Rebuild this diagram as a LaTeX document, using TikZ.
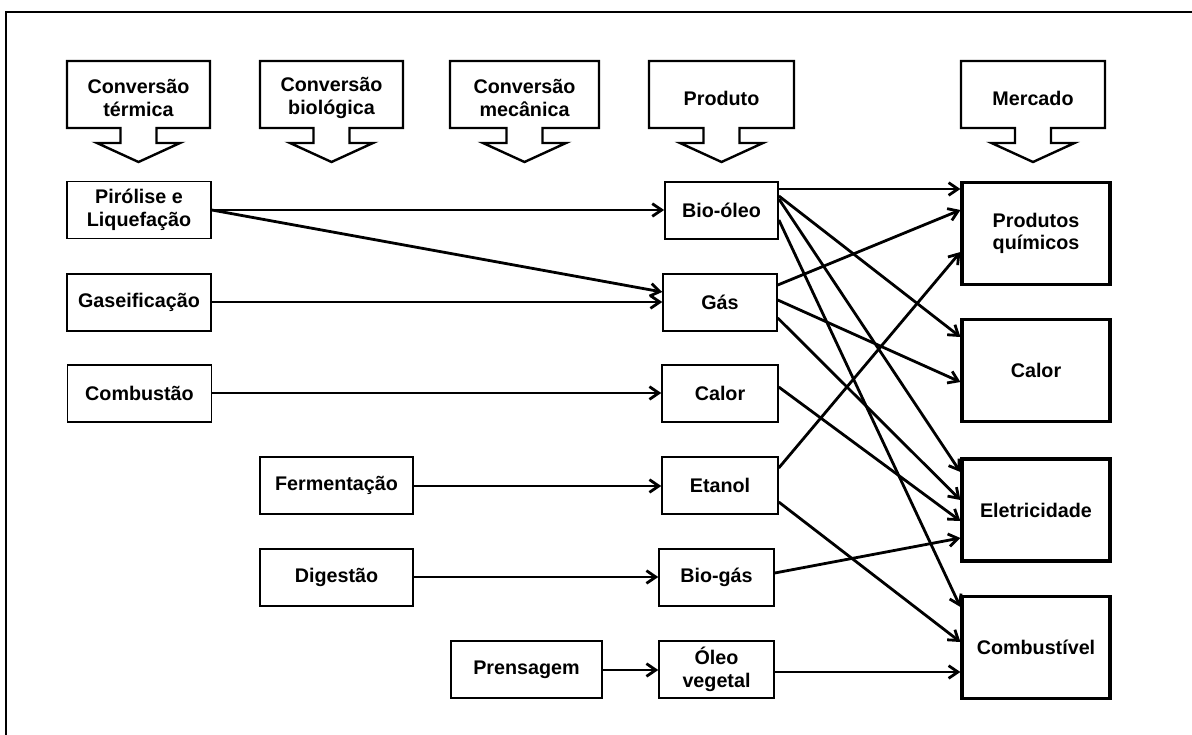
\documentclass[tikz,border=0pt]{standalone}
\usepackage{fontspec}
\setmainfont{Liberation Sans}
\usetikzlibrary{arrows.meta,calc}
\tikzset{
  px/.style={x=0.75pt,y=-0.75pt},
  txt/.style={font=\fontsize{14.8}{17}\selectfont\bfseries, align=center, inner sep=0pt},
  proc/.style={txt, draw, line width=1.1pt, minimum height=42.75pt},
  mkt/.style={txt, draw, line width=2.4pt, minimum width=111pt, minimum height=76.5pt},
  hdr/.style={txt},
  hdrline/.style={line width=1.8pt, line join=miter},
  conn/.style={line width=2.1pt, -{Straight Barb[length=7pt,width=9.5pt]}},
  frameline/.style={line width=1.6pt},
}
\newcommand\hdrshape[2]{%
  \draw[hdrline] ($(#1.center)+(-#2,-37)$) -- ($(#1.center)+(#2,-37)$)
    -- ($(#1.center)+(#2,30)$) -- ($(#1.center)+(18,30)$) -- ++(0,15) -- ++(23.5,0)
    -- ($(#1.center)+(0,64)$) -- ++(-41.5,-19) -- ++(23.5,0) -- ++(0,-15)
    -- ($(#1.center)+(-#2,30)$) -- cycle;}
\begin{document}
\begin{tikzpicture}[px]
\fill[white] (0,0) rectangle (1192,735);
\useasboundingbox (0,0) rectangle (1192,735);
\draw[frameline] (6,735) -- (6,12) -- (1192,12);

% headers
\node[hdr] (h1) at (138.5,98) {Conversão\\térmica};
\node[hdr] (h2) at (331.5,98) {Conversão\\biológica};
\node[hdr] (h3) at (524.5,98) {Conversão\\mecânica};
\node[hdr] (h4) at (721.5,98) {Produto};
\node[hdr] (h5) at (1033,98) {Mercado};
\hdrshape{h1}{71.5}
\hdrshape{h2}{71.5}
\hdrshape{h3}{74.5}
\hdrshape{h4}{72.5}
\hdrshape{h5}{72}

% processes
\node[proc, minimum width=108pt] (pir) at (139,210) {Pirólise e\\Liquefação};
\node[proc, minimum width=108pt] (gasf) at (139,302.5) {Gaseificação};
\node[proc, minimum width=108pt] (comb) at (139.5,393.5) {Combustão};
\node[proc, minimum width=114.75pt] (ferm) at (336.5,485.5) {Fermentação};
\node[proc, minimum width=114.75pt] (dig) at (336.5,577.5) {Digestão};
\node[proc, minimum width=113.25pt] (pren) at (526.5,669.5) {Prensagem};

% products
\node[proc, minimum width=85pt] (bio) at (721.5,210.5) {Bio-óleo};
\node[proc, minimum width=85.5pt] (gas) at (720,302.5) {Gás};
\node[proc, minimum width=87pt] (calp) at (720,393.5) {Calor};
\node[proc, minimum width=87pt] (eta) at (720,485.5) {Etanol};
\node[proc, minimum width=86.25pt] (biog) at (716.5,577.5) {Bio-gás};
\node[proc, minimum width=86.25pt] (oleo) at (716.5,669.5) {Óleo\\vegetal};

% markets
\node[mkt] (pq) at (1036,233.5) {Produtos\\químicos};
\node[mkt] (calm) at (1036,370.5) {Calor};
\node[mkt] (ele) at (1036,510) {Eletricidade};
\node[mkt] (cmb) at (1036,647.5) {Combustível};

% process -> product
\draw[conn] (pir.east |- 0,210) -- (bio.west |- 0,210);
\draw[conn] (pir.east |- 0,210) -- (gas.west |- 0,292);
\draw[conn] (gasf.east |- 0,302) -- (gas.west |- 0,302);
\draw[conn] (comb.east |- 0,393) -- (calp.west |- 0,393);
\draw[conn] (ferm.east |- 0,486) -- (eta.west |- 0,486);
\draw[conn] (dig.east |- 0,577) -- (biog.west |- 0,577);
\draw[conn] (pren.east |- 0,670) -- (oleo.west |- 0,670);

% product -> market
\draw[conn] (bio.east |- 0,189) -- (pq.west |- 0,189);
\draw[conn] (bio.east |- 0,196) -- (calm.west |- 0,337);
\draw[conn] (bio.east |- 0,199) -- (ele.west |- 0,472);
\draw[conn] (bio.east |- 0,220) -- (cmb.west |- 0,607);
\draw[conn] (gas.east |- 0,285) -- (pq.west |- 0,210);
\draw[conn] (gas.east |- 0,300) -- (calm.west |- 0,382);
\draw[conn] (gas.east |- 0,318) -- (ele.west |- 0,500);
\draw[conn] (calp.east |- 0,387) -- (ele.west |- 0,521);
\draw[conn] (eta.east |- 0,468) -- (pq.west |- 0,252);
\draw[conn] (eta.east |- 0,502) -- (cmb.west |- 0,642);
\draw[conn] (biog.east |- 0,573) -- (ele.west |- 0,538);
\draw[conn] (oleo.east |- 0,672) -- (cmb.west |- 0,672);
\end{tikzpicture}
\end{document}
